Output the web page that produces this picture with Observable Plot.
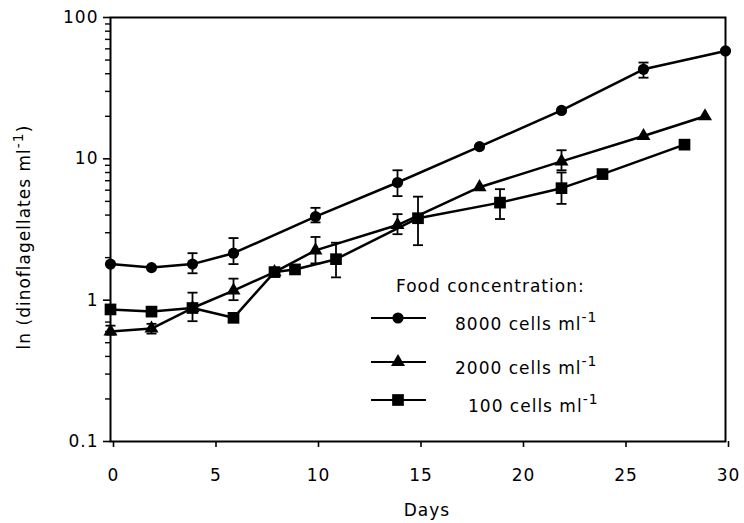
<!DOCTYPE html>
<html>
<head>
<meta charset="utf-8">
<script src="https://cdn.jsdelivr.net/npm/d3@7"></script>
<script src="https://cdn.jsdelivr.net/npm/@observablehq/plot@0.6"></script>
<style>
  html, body { margin: 0; padding: 0; background: #fff; }
  #chart { position: relative; width: 744px; height: 523px; }
</style>
</head>
<body>
<div id="chart"></div>
<script>
// ---- data ----
const days8000 = [0, 2, 4, 6, 10, 14, 18, 22, 26, 30];
const vals8000 = [1.8, 1.7, 1.8, 2.15, 3.9, 6.8, 12.2, 22, 43, 58];
const lo8000   = [null, null, 1.55, 1.8, 3.55, 5.45, null, null, 37.5, null];
const hi8000   = [null, null, 2.15, 2.75, 4.5, 8.3, null, null, 48, null];

const days2000 = [0, 2, 4, 6, 8, 10, 14, 18, 22, 26, 29];
const vals2000 = [0.6, 0.63, 0.88, 1.17, 1.58, 2.25, 3.4, 6.3, 9.6, 14.5, 20];
const lo2000   = [0.57, 0.58, null, 1.0, null, 1.82, 2.93, null, 8.3, null, null];
const hi2000   = [0.66, 0.68, null, 1.42, null, 2.8, 4.06, null, 11.5, null, null];

const days100 = [0, 2, 4, 6, 8, 9, 11, 15, 19, 22, 24, 28];
const vals100 = [0.86, 0.83, 0.88, 0.75, 1.58, 1.65, 1.95, 3.8, 4.9, 6.2, 7.8, 12.6];
const lo100   = [null, null, 0.71, null, null, null, 1.45, 2.45, 3.75, 4.8, null, null];
const hi100   = [null, null, 1.13, null, null, null, 2.55, 5.4, 6.1, 8.0, null, null];

const seriesNames = ["8000", "2000", "100"];
const seriesSymbols = ["circle", "triangle", "square"];
const xTicks = [0, 5, 10, 15, 20, 25, 30];
const yMajor = [0.1, 1, 10, 100];
const yMinor = [0.2, 0.3, 0.4, 0.5, 0.6, 0.7, 0.8, 0.9, 2, 3, 4, 5, 6, 7, 8, 9, 20, 30, 40, 50, 60, 70, 80, 90];
const xLabel = "Days";
const yLabel = "ln (dinoflagellates ml";
const legendTitle = "Food concentration:";
const unitText = " cells ml";

// ---- build rows ----
const raw = [
  [days8000, vals8000, lo8000, hi8000],
  [days2000, vals2000, lo2000, hi2000],
  [days100, vals100, lo100, hi100]
];
const rows = raw.flatMap(([d, v, lo, hi], s) =>
  d.map((day, i) => ({series: seriesNames[s], day, v: v[i], lo: lo[i], hi: hi[i]})));
const errRows = rows.filter(r => r.lo != null && r.hi != null);

const cap = {
  draw(ctx, size) {
    const r = Math.sqrt(size / Math.PI);
    ctx.moveTo(-r, 0);
    ctx.lineTo(r, 0);
  }
};
const symR = {circle: 5.6, triangle: 5.2, square: 6.6};

const W = 744, H = 523;
const svg = Plot.plot({
  width: W,
  height: H,
  marginLeft: 110,
  marginRight: 19,
  marginTop: 17,
  marginBottom: 82,
  style: "font-family: 'DejaVu Sans', sans-serif; font-size: 17px; letter-spacing: 1px; color: black; background: white; overflow: visible;",
  x: {domain: [0, 30]},
  y: {type: "log", domain: [0.1, 100]},
  marks: [
    Plot.axisY(yMinor, {tickSize: 5, tickFormat: () => "", strokeWidth: 1.4, label: null}),
    Plot.axisY(yMajor, {tickSize: 7, tickPadding: 5, tickFormat: d => String(d), strokeWidth: 1.6, label: null}),
    Plot.axisX(xTicks, {tickSize: 6, tickPadding: 21, dx: 3, tickFormat: d => String(d), strokeWidth: 1.6, label: null}),
    Plot.frame({stroke: "black", strokeWidth: 2}),
    Plot.ruleX(errRows, {x: "day", y1: "lo", y2: "hi", stroke: "black", strokeWidth: 1.8}),
    Plot.dot(errRows, {x: "day", y: "lo", symbol: cap, r: 5, stroke: "black", strokeWidth: 1.8}),
    Plot.dot(errRows, {x: "day", y: "hi", symbol: cap, r: 5, stroke: "black", strokeWidth: 1.8}),
    Plot.line(rows, {x: "day", y: "v", z: "series", stroke: "black", strokeWidth: 2.5}),
    ...seriesNames.map((name, s) =>
      Plot.dot(rows.filter(r => r.series === name), {
        x: "day", y: "v", symbol: seriesSymbols[s], r: symR[seriesSymbols[s]], fill: "black", stroke: "none"
      }))
  ]
});
document.getElementById("chart").appendChild(svg);

// ---- axis titles and legend ----
const root = d3.select(svg);
const g = root.append("g").attr("fill", "black").attr("font-family", "'DejaVu Sans', sans-serif")
  .attr("font-size", 17).attr("text-anchor", "start");

g.append("text").attr("x", 427).attr("y", 516).attr("text-anchor", "middle").text(xLabel);

const yl = g.append("text")
  .attr("transform", "translate(30,237) rotate(-90)")
  .attr("text-anchor", "middle");
yl.append("tspan").text(yLabel);
yl.append("tspan").attr("dy", -7).attr("font-size", 14).text("-1");
yl.append("tspan").attr("dy", 7).text(")");

const leg = g.append("g");
leg.append("text").attr("x", 396).attr("y", 292).text(legendTitle);
const rowY = [318, 362, 400];
const textX = [455, 455, 468];
seriesNames.forEach((name, s) => {
  const y = rowY[s];
  leg.append("line").attr("x1", 371).attr("x2", 426).attr("y1", y).attr("y2", y)
    .attr("stroke", "black").attr("stroke-width", 2);
  const sym = {circle: d3.symbolCircle, triangle: d3.symbolTriangle, square: d3.symbolSquare}[seriesSymbols[s]];
  const r = symR[seriesSymbols[s]];
  leg.append("path").attr("transform", `translate(398,${y})`)
    .attr("d", d3.symbol(sym, r * r * Math.PI)());
  const t = leg.append("text").attr("x", textX[s]).attr("y", y + 12);
  t.append("tspan").text(name + unitText);
  t.append("tspan").attr("dy", -8).attr("font-size", 14).text("-1");
});
</script>
</body>
</html>
